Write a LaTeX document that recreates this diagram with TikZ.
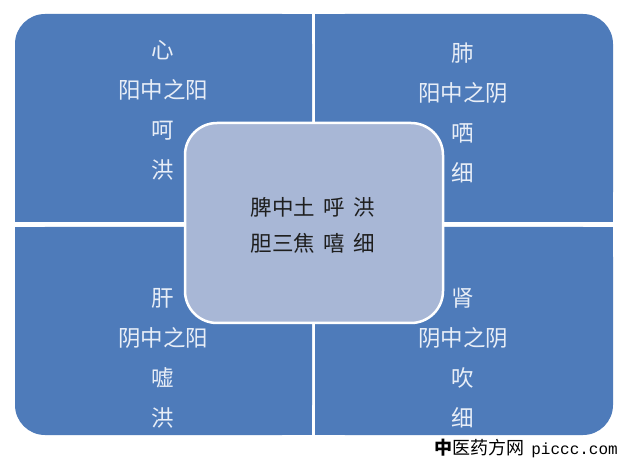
\documentclass[tikz,border=0pt]{standalone}
\usepackage{fontspec}
\newfontfamily\cjk{Noto Sans CJK SC}
\newfontfamily\wmono{Liberation Mono}
\definecolor{quadblue}{HTML}{4E7BBA}
\definecolor{centerfill}{HTML}{A8B7D6}
\definecolor{quadtext}{HTML}{E8EEF7}
\definecolor{centertext}{HTML}{1E1E1E}
\begin{document}
\begin{tikzpicture}[x=1pt,y=-1pt,
  quad/.style={fill=quadblue},
  qtext/.style={font=\cjk\fontsize{22.5}{40}\selectfont, text=quadtext, align=center, inner sep=0pt},
  centerbox/.style={draw=white, line width=2.5pt, fill=centerfill, rounded corners=32pt},
  ctext/.style={font=\cjk\fontsize{21.5}{36}\selectfont, text=centertext, align=center, inner sep=0pt},
  wmark/.style={font=\cjk\fontsize{18}{20}\selectfont, text=black, inner sep=0pt}]
\useasboundingbox (0,0) rectangle (625,468);
\fill[white] (0,0) rectangle (625,468);
% top-left quadrant
\fill[quad, rounded corners=30pt] (15,14) rectangle (312,222);
\fill[quad] (60,14) rectangle (312,222);
\fill[quad] (15,60) rectangle (312,222);
% top-right quadrant
\fill[quad, rounded corners=30pt] (315,14) rectangle (613,222);
\fill[quad] (315,14) rectangle (568,222);
\fill[quad] (315,60) rectangle (613,222);
% bottom-left quadrant
\fill[quad, rounded corners=30pt] (15,227) rectangle (312,435);
\fill[quad] (60,227) rectangle (312,435);
\fill[quad] (15,227) rectangle (312,390);
% bottom-right quadrant
\fill[quad, rounded corners=30pt] (315,227) rectangle (613,435);
\fill[quad] (315,227) rectangle (568,435);
\fill[quad] (315,227) rectangle (613,390);
% quadrant texts
\node[qtext] (tl) at (163,110) {心\\阳中之阳\\呵\\洪};
\node[qtext] (tr) at (463,113) {肺\\阳中之阴\\哂\\细};
\node[qtext] (bl) at (163,358) {肝\\阴中之阳\\嘘\\洪};
\node[qtext] (br) at (463,358) {肾\\阴中之阴\\吹\\细};
% centre
\path[centerbox] (185,123) rectangle (443,323);
\node[ctext] (c) at (313,225) {脾中土\hspace{0.4em}呼\hspace{0.4em}洪\\胆三焦\hspace{0.4em}嘻\hspace{0.4em}细};
% watermark
\node[wmark, anchor=east] (wm) at (618,448) {{\bfseries 中}医药方网\hspace{0.4em}{\wmono\fontsize{16}{20}\selectfont piccc.com}};
\end{tikzpicture}
\end{document}
